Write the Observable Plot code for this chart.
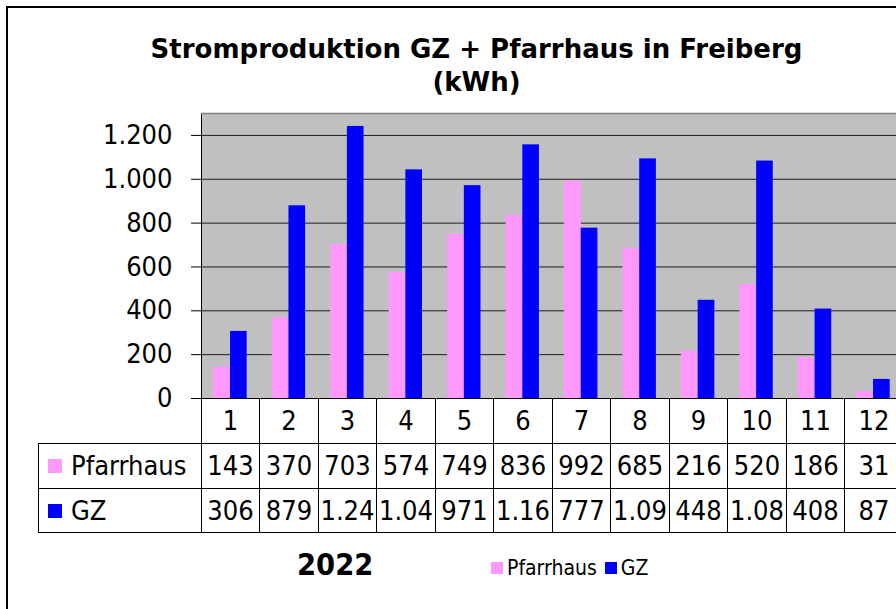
<!DOCTYPE html>
<html><head><meta charset="utf-8">
<script src="https://cdn.jsdelivr.net/npm/d3@7"></script>
<script src="https://cdn.jsdelivr.net/npm/@observablehq/plot@0.6"></script>
<style>
  body{margin:0;background:#fff;}
  #wrap{position:relative;width:896px;height:609px;overflow:hidden;background:#fff;
    font-family:"DejaVu Sans Condensed","Noto Sans",sans-serif;color:#000;}
  #border{position:absolute;left:6px;top:6px;width:1000px;height:700px;border:2px solid #000;box-sizing:border-box;}
  #title{position:absolute;left:0;top:33px;width:953px;text-align:center;font-weight:bold;font-size:26px;line-height:33px;
    font-family:"DejaVu Sans",sans-serif;}
  #chart{position:absolute;left:0;top:0;width:960px;}
  #chart svg{max-width:none !important;}
  .cell{position:absolute;box-sizing:border-box;border:1px solid #000;background:#fff;text-align:center;font-size:27px;white-space:nowrap;overflow:hidden;}
  .lab{text-align:left;}
  .sw{display:inline-block;vertical-align:middle;}
  #year{position:absolute;left:297px;top:547px;font-weight:bold;font-size:30.5px;}
  #legend{position:absolute;left:491px;top:555px;font-size:21px;line-height:26px;white-space:nowrap;}
</style>
</head><body>
<div id="wrap">
  <div id="border"></div>
  <div id="title">Stromproduktion GZ + Pfarrhaus in Freiberg<br>(kWh)</div>
  <div id="chart"></div>
  <div id="table"></div>
  <div id="year">2022</div>
  <div id="legend"></div>
</div>
<script>
const months = [1,2,3,4,5,6,7,8,9,10,11,12];
const seriesNames = ["Pfarrhaus","GZ"];
const seriesColors = ["#ff99ff","#0000ff"];
const pfarrhaus = [143,370,703,574,749,836,992,685,216,520,186,31];
const gz = [306,879,1241,1043,971,1157,777,1093,448,1083,408,87];
const pfarrhausLabels = ["143","370","703","574","749","836","992","685","216","520","186","31"];
const gzLabels = ["306","879","1.24","1.04","971","1.16","777","1.09","448","1.08","408","87"];
const yTicks = [0,200,400,600,800,1000,1200];

const FONT = '"DejaVu Sans Condensed","Noto Sans",sans-serif';
const fmt = d3.formatLocale({decimal:",",thousands:".",grouping:[3],currency:["","€"]}).format(",");

const data = months.flatMap((m,i)=>[
  {month:m, series:"Pfarrhaus", value:pfarrhaus[i]},
  {month:m, series:"GZ", value:gz[i]}
]);

const plot = Plot.plot({
  width: 960, height: 400,
  marginLeft: 201, marginRight: 57.5, marginTop: 113, marginBottom: 2,
  style: {fontFamily: FONT, fontSize: "27px", color: "#000", background: "transparent", overflow: "visible", maxWidth: "none"},
  x: {type: "band", domain: months, padding: 0, round: false, axis: null},
  y: {domain: [0, 1300], axis: null},
  color: {domain: seriesNames, range: seriesColors},
  marks: [
    Plot.frame({fill: "#c0c0c0", stroke: "#000"}),
    Plot.gridY(yTicks.slice(1), {stroke: "#000", strokeOpacity: 0.85}),
    Plot.barY(data.filter(d => d.series === "Pfarrhaus"), {x: "month", y: "value", fill: "series", insetLeft: 12.3, insetRight: 29.4}),
    Plot.barY(data.filter(d => d.series === "GZ"), {x: "month", y: "value", fill: "series", insetLeft: 29, insetRight: 12.8}),
    Plot.ruleY([1300], {stroke: "#808080", strokeWidth: 1.5}),
    Plot.ruleY([0], {stroke: "#000"}),
    Plot.axisY(yTicks, {tickSize: 10, tickPadding: 19, tickFormat: fmt, anchor: "left", stroke: "#000", label: null})
  ]
});
document.getElementById("chart").appendChild(plot);

// data table aligned with the plot's x scale
const xs = plot.scale("x");
const bw = xs.bandwidth;
const xLeft = m => xs.apply(m);
const tableEl = document.getElementById("table");
const rowTop = [398, 443, 487.5];
const rowH = 44.7;
const labelLeft = 38;
function cell(left, top, w, h, html, cls) {
  const d = document.createElement("div");
  d.className = "cell" + (cls ? " " + cls : "");
  d.style.left = Math.round(left) + "px";
  d.style.top = Math.round(top) + "px";
  d.style.width = (Math.round(left + w) - Math.round(left) + 1) + "px";
  d.style.height = (Math.round(top + h) - Math.round(top) + 1) + "px";
  d.style.lineHeight = (Math.round(top + h) - Math.round(top) - 1) + "px";
  d.innerHTML = html;
  tableEl.appendChild(d);
}
const rows = [months.map(String), pfarrhausLabels, gzLabels];
rows.forEach((r, ri) => {
  months.forEach((m, i) => cell(xLeft(m), rowTop[ri], bw, rowH, r[i]));
});
seriesNames.forEach((s, i) => {
  const x0 = labelLeft, x1 = xLeft(months[0]);
  cell(x0, rowTop[i+1], x1 - x0, rowH,
    `<span class="sw" style="width:14px;height:14px;background:${seriesColors[i]};margin:0 9px 0 9px;position:relative;top:-2px"></span>${s}`, "lab");
});

// legend
document.getElementById("legend").innerHTML = seriesNames.map((s, i) =>
  `<span class="sw" style="width:12px;height:12px;background:${seriesColors[i]};margin-right:4px;position:relative;top:-1px"></span>${s}`
).join('<span style="display:inline-block;width:8px"></span>');
</script>
</body></html>
